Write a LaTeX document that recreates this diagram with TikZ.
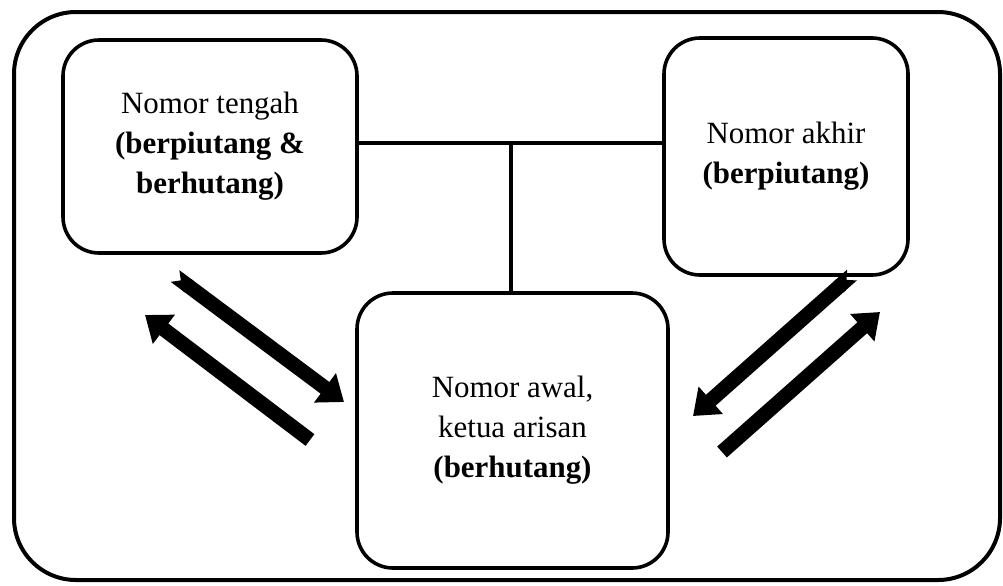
\documentclass[tikz,border=0pt]{standalone}
\usepackage{fontspec}
\setmainfont{Liberation Serif}
\usetikzlibrary{arrows.meta}
\newlength\pxu
\setlength\pxu{0.02cm}
\begin{document}
\begin{tikzpicture}[x=0.02cm,y=-0.02cm,
  outerbox/.style={draw,line width=4\pxu,rounded corners=62\pxu,inner sep=0pt},
  partybox/.style={draw,line width=3.6\pxu,rounded corners=36\pxu,align=center,inner sep=0pt,
    font=\fontsize{17.6}{22.7}\selectfont},
  link/.style={line width=3.6\pxu},
  bigarrow/.style={line width=8.3pt,-{Triangle[length=13.5pt,width=20pt]}},
  notcharrow/.style={line width=8.3pt,{Triangle Cap[reversed]}-{Triangle[length=13.5pt,width=20pt]}}]
\useasboundingbox (0,0) rectangle (1003,585);
\node[outerbox,minimum width=986\pxu,minimum height=568\pxu] (O) at (507,296) {};
\node[partybox,minimum width=294\pxu,minimum height=213\pxu] (L) at (210,146.5)
  {Nomor tengah\\\textbf{(berpiutang \&}\\\textbf{berhutang)}};
\node[partybox,minimum width=244\pxu,minimum height=237\pxu] (R) at (786,156.5)
  {Nomor akhir\\\textbf{(berpiutang)}};
\node[partybox,minimum width=311\pxu,minimum height=275\pxu] (B) at (512.5,430.5)
  {Nomor awal,\\ketua arisan\\\textbf{(berhutang)}};
\coordinate (J) at (511,143);
\draw[link] (J -| L.east) -- (J -| R.west);
\draw[link] (J) -- (J |- B.north);
\coordinate (a1s) at (175,276);
\coordinate (a1e) at (344,402);
\coordinate (a2s) at (310,440);
\coordinate (a2e) at (145,315);
\coordinate (a3s) at (852,275);
\coordinate (a3e) at (693,416);
\coordinate (a4s) at (722,452);
\coordinate (a4e) at (880,312);
\draw[notcharrow] (a1s) -- (a1e);
\draw[bigarrow] (a2s) -- (a2e);
\draw[notcharrow] (a3s) -- (a3e);
\draw[bigarrow] (a4s) -- (a4e);
\end{tikzpicture}
\end{document}
